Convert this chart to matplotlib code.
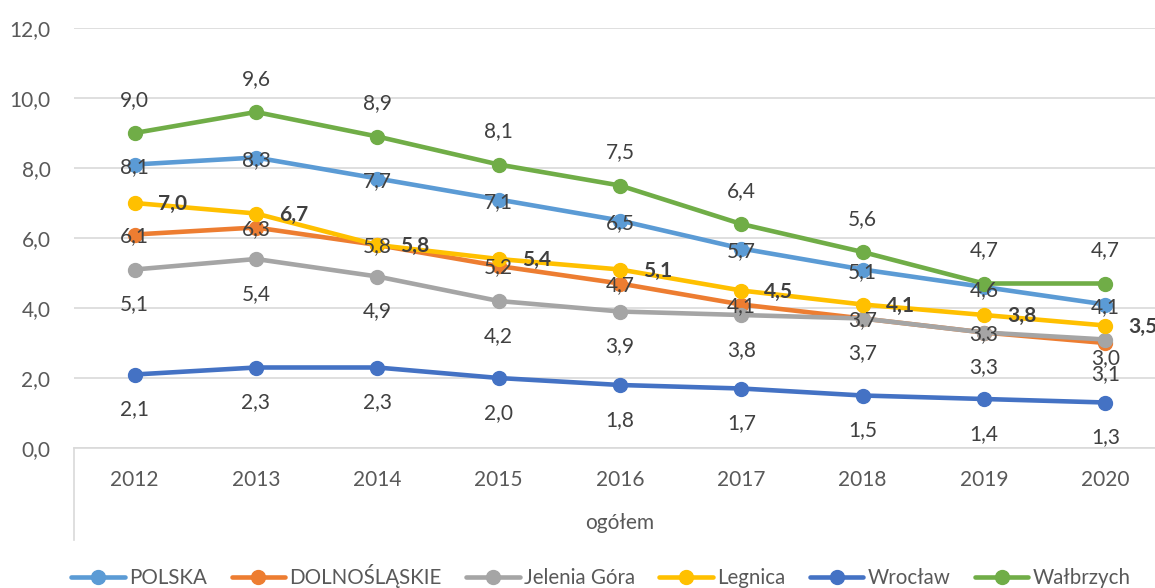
import numpy as np
import matplotlib.pyplot as plt
from matplotlib.lines import Line2D

plt.rcParams['font.family'] = ['Lato', 'DejaVu Sans']

years = ['2012', '2013', '2014', '2015', '2016', '2017', '2018', '2019', '2020']

polska = [8.1, 8.3, 7.7, 7.1, 6.5, 5.7, 5.1, 4.6, 4.1]
dolnoslaskie = [6.1, 6.3, 5.8, 5.2, 4.7, 4.1, 3.7, 3.3, 3.0]
jelenia_gora = [5.1, 5.4, 4.9, 4.2, 3.9, 3.8, 3.7, 3.3, 3.1]
legnica = [7.0, 6.7, 5.8, 5.4, 5.1, 4.5, 4.1, 3.8, 3.5]
wroclaw = [2.1, 2.3, 2.3, 2.0, 1.8, 1.7, 1.5, 1.4, 1.3]
walbrzych = [9.0, 9.6, 8.9, 8.1, 7.5, 6.4, 5.6, 4.7, 4.7]

series = [
    ('POLSKA', polska, '#5B9BD5'),
    ('DOLNOŚLĄSKIE', dolnoslaskie, '#ED7D31'),
    ('Jelenia Góra', jelenia_gora, '#A5A5A5'),
    ('Legnica', legnica, '#FFC000'),
    ('Wrocław', wroclaw, '#4472C4'),
    ('Wałbrzych', walbrzych, '#70AD47'),
]

# label placement per series: (dx, dy) in points, bold
label_style = {
    'POLSKA': (0, -2, False),
    'DOLNOŚLĄSKIE': (0, -1, False),
    'Jelenia Góra': (0, -25, False),
    'Legnica': (27, -1, True),
    'Wrocław': (0, -25, False),
    'Wałbrzych': (0, 24, False),
}

fig = plt.figure(figsize=(11.55, 5.88), dpi=100)
ax = fig.add_axes([74 / 1155, 1 - 448 / 588, 1092 / 1155, 420 / 588])

x = np.arange(len(years))
handles = []
for name, vals, col in series:
    h, = ax.plot(x, vals, color=col, lw=3.3, marker='o', ms=10, label=name,
                 solid_capstyle='round', zorder=3)
    handles.append(h)

txt = '#404040'
for name, vals, col in series:
    dx, dy, bold = label_style[name]
    for i, v in enumerate(vals):
        ddy = dy
        if name == 'DOLNOŚLĄSKIE' and i == len(vals) - 1:
            ddy = -11
        ax.annotate(f'{v:.1f}'.replace('.', ','), (x[i], v), xytext=(dx, ddy),
                    textcoords='offset points', ha='center', va='center',
                    fontsize=15, color=txt,
                    fontweight='bold' if bold else 'normal', zorder=5,
                    annotation_clip=False)

ax.set_xlim(-0.5, len(years) - 0.5)
ax.set_ylim(0, 12)
ax.set_yticks(np.arange(0, 12.1, 2))
ax.set_yticklabels([f'{t:.1f}'.replace('.', ',') for t in np.arange(0, 12.1, 2)])
ax.set_xticks(x)
ax.set_xticklabels(years)
ax.tick_params(length=0, labelsize=15, labelcolor='#595959')
ax.tick_params(axis='x', pad=16)
ax.tick_params(axis='y', pad=17)
ax.grid(axis='y', color='#D9D9D9', lw=1.2, zorder=0)
for s in ['top', 'right', 'left']:
    ax.spines[s].set_visible(False)
ax.spines['bottom'].set_color('#D9D9D9')
ax.spines['bottom'].set_linewidth(1.2)

# multi-level category axis
fig.add_artist(Line2D([74 / 1155, 74 / 1155], [1 - 448 / 588, 1 - 540 / 588],
                      color='#D9D9D9', lw=1.2))
fig.text(620 / 1155, 1 - 523 / 588, 'ogółem', ha='center', va='center',
         fontsize=15, color='#595959')

fig.legend(handles=handles, loc='center', bbox_to_anchor=(601 / 1155, 1 - 576 / 588),
           ncol=6, frameon=False, fontsize=14.8, handlelength=2.6,
           columnspacing=1.2, handletextpad=0.2, labelcolor='#595959',
           borderaxespad=0, borderpad=0)

fig.savefig('out.png', dpi=100)
